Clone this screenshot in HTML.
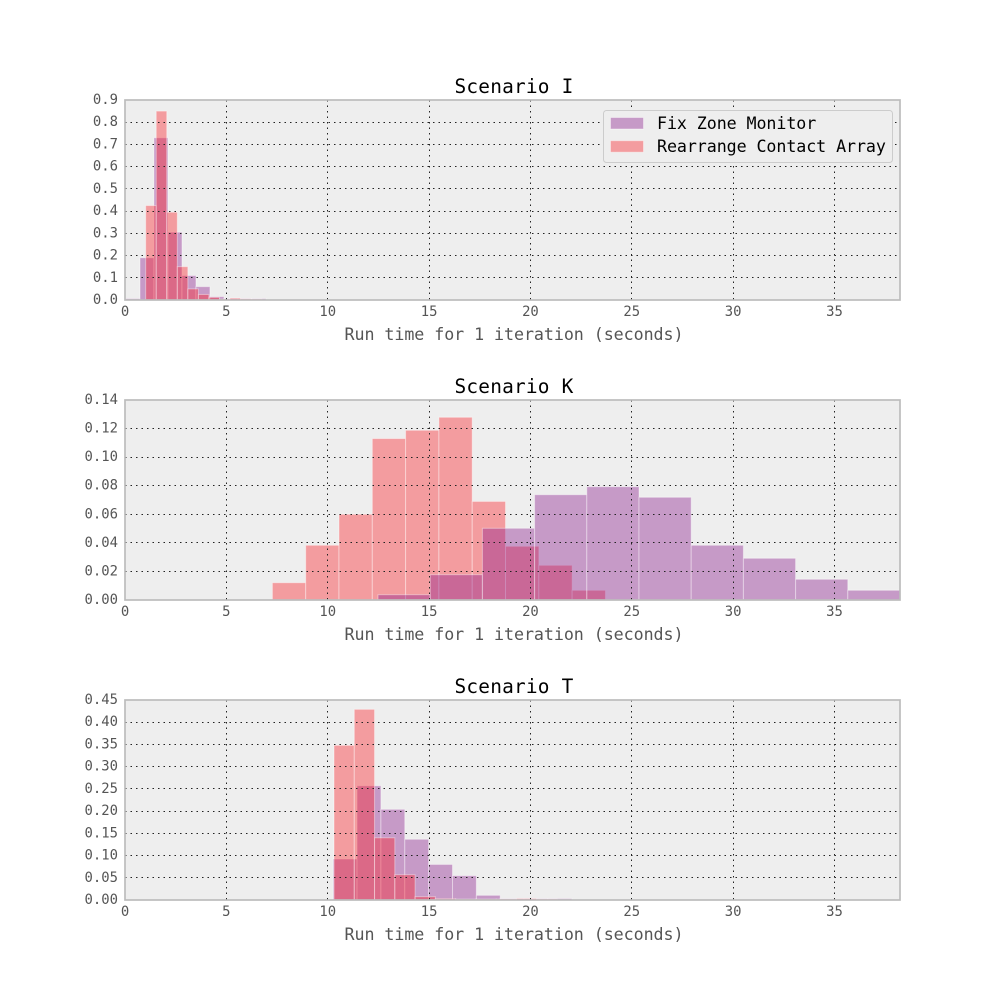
<!DOCTYPE html>
<html>
<head>
<meta charset="utf-8">
<title>Run time histograms</title>
<style>
html,body{margin:0;padding:0;background:#fff;}
svg{display:block;}
text{font-family:"DejaVu Sans Mono","Liberation Mono",monospace;}
</style>
</head>
<body>
<svg id="chart" xmlns="http://www.w3.org/2000/svg" width="1000" height="1000" viewBox="0 0 1000 1000"></svg>
<script>
var xTickValues = [0, 5, 10, 15, 20, 25, 30, 35];
var xMaxValue = [38.23];
var seriesNames = ['Fix Zone Monitor', 'Rearrange Contact Array'];

var panelITitle = ['Scenario I'];
var panelIYTicks = ['0.0', '0.1', '0.2', '0.3', '0.4', '0.5', '0.6', '0.7', '0.8', '0.9'];
var panelIYMax = [0.9];
var panelIFixStart = [0.05];
var panelIFixWidth = [0.69];
var panelIFixValues = [0.006, 0.19, 0.73, 0.305, 0.11, 0.06, 0.015, 0.006, 0.006, 0.006];
var panelIRearrangeStart = [1.02];
var panelIRearrangeWidth = [0.52];
var panelIRearrangeValues = [0.425, 0.85, 0.395, 0.15, 0.05, 0.025, 0.012, 0.004, 0.008, 0.005, 0.004];

var panelKTitle = ['Scenario K'];
var panelKYTicks = ['0.00', '0.02', '0.04', '0.06', '0.08', '0.10', '0.12', '0.14'];
var panelKYMax = [0.14];
var panelKFixStart = [12.48];
var panelKFixWidth = [2.575];
var panelKFixValues = [0.0037, 0.0177, 0.0502, 0.0737, 0.0793, 0.0719, 0.0383, 0.0292, 0.0145, 0.0068];
var panelKRearrangeStart = [7.27];
var panelKRearrangeWidth = [1.643];
var panelKRearrangeValues = [0.0121, 0.0383, 0.06, 0.113, 0.1188, 0.1279, 0.069, 0.0376, 0.0243, 0.0068];

var panelTTitle = ['Scenario T'];
var panelTYTicks = ['0.00', '0.05', '0.10', '0.15', '0.20', '0.25', '0.30', '0.35', '0.40', '0.45'];
var panelTYMax = [0.45];
var panelTFixStart = [10.27];
var panelTFixWidth = [1.177];
var panelTFixValues = [0.0922, 0.257, 0.204, 0.1366, 0.08, 0.0547, 0.0105, 0.003, 0.003, 0.003];
var panelTRearrangeStart = [10.31];
var panelTRearrangeWidth = [1.0];
var panelTRearrangeValues = [0.348, 0.429, 0.14, 0.057, 0.0075, 0.003, 0.002, 0.002, 0.002, 0.003, 0.002];

var xAxisTitle = ['Run time for 1 iteration (seconds)'];

var NS = 'http://www.w3.org/2000/svg';
var svg = document.getElementById('chart');
var PLOT_LEFT = 125, PLOT_RIGHT = 900, PLOT_HEIGHT = 200;
var FIX_FILL = '#8a1c8d', RED_FILL = '#fb2128', ALPHA = 0.4;

function make(tag, attrs, parent, text) {
  var el = document.createElementNS(NS, tag);
  for (var k in attrs) { el.setAttribute(k, attrs[k]); }
  if (text !== undefined) { el.textContent = text; }
  parent.appendChild(el);
  return el;
}
function xScale(v) {
  return PLOT_LEFT + v / xMaxValue[0] * (PLOT_RIGHT - PLOT_LEFT);
}

function drawSeries(group, key, seriesLabel, start, width, values, fill, yScale, baseline) {
  values.forEach(function (v, i) {
    var x0 = xScale(start + i * width);
    var x1 = xScale(start + (i + 1) * width);
    var y = yScale(v);
    var bar = make('rect', {x: x0, y: y, width: x1 - x0, height: baseline - y,
      fill: fill, 'fill-opacity': ALPHA, stroke: '#ffffff', 'stroke-opacity': 0.4, 'stroke-width': 1}, group);
    
    
  });
}

function drawPanel(cfg) {
  var top = cfg.top, bottom = top + PLOT_HEIGHT;
  var yScale = function (v) { return bottom - v / cfg.yMax * PLOT_HEIGHT; };

  var g = make('g', {}, svg);
  
  

  var bg = make('rect', {x: PLOT_LEFT, y: top, width: PLOT_RIGHT - PLOT_LEFT, height: PLOT_HEIGHT, fill: '#eeeeee'}, g);
  
  

  var defs = make('defs', {}, g);
  var clip = make('clipPath', {id: cfg.key + '-clip'}, defs);
  make('rect', {x: PLOT_LEFT, y: top, width: PLOT_RIGHT - PLOT_LEFT, height: PLOT_HEIGHT}, clip);

  var bars = make('g', {'clip-path': 'url(#' + cfg.key + '-clip)'}, g);
  
  
  if (cfg.redOnTop) {
    drawSeries(bars, cfg.key, 'fix-zone-monitor', cfg.fixStart, cfg.fixWidth, cfg.fixValues, FIX_FILL, yScale, bottom);
    drawSeries(bars, cfg.key, 'rearrange-contact-array', cfg.redStart, cfg.redWidth, cfg.redValues, RED_FILL, yScale, bottom);
  } else {
    drawSeries(bars, cfg.key, 'rearrange-contact-array', cfg.redStart, cfg.redWidth, cfg.redValues, RED_FILL, yScale, bottom);
    drawSeries(bars, cfg.key, 'fix-zone-monitor', cfg.fixStart, cfg.fixWidth, cfg.fixValues, FIX_FILL, yScale, bottom);
  }

  xTickValues.forEach(function (t) {
    var x = xScale(t);
    if (t > 0) {
      var gx = Math.floor(x) + 0.5;
      var gl = make('line', {x1: gx, x2: gx, y1: top, y2: bottom, stroke: '#222222', 'stroke-width': 1, 'stroke-dasharray': '1.5 4'}, g);
      
      
    }
    var lab = make('text', {x: x, y: bottom + 16, 'text-anchor': 'middle', 'font-size': '13.9px', fill: '#555555'}, g, String(t));
    
    
  });

  cfg.yTicks.forEach(function (t) {
    var y = yScale(parseFloat(t));
    if (parseFloat(t) > 0 && parseFloat(t) < cfg.yMax) {
      var gy = Math.floor(y) + 0.5;
      var gl = make('line', {x1: PLOT_LEFT, x2: PLOT_RIGHT, y1: gy, y2: gy, stroke: '#222222', 'stroke-width': 1, 'stroke-dasharray': '1.5 4'}, g);
      
      
    }
    var lab = make('text', {x: 118, y: y + 4, 'text-anchor': 'end', 'font-size': '13.9px', fill: '#555555'}, g, t);
    
    
  });

  var frame = make('rect', {x: PLOT_LEFT, y: top, width: PLOT_RIGHT - PLOT_LEFT, height: PLOT_HEIGHT, fill: 'none', stroke: '#bcbcbc', 'stroke-width': 1.7}, g);
  
  

  var title = make('text', {x: 514, y: top - 7, 'text-anchor': 'middle', 'font-size': '19.44px', 'letter-spacing': '0.2px', fill: '#000000'}, g, cfg.title);
  
  

  var xt = make('text', {x: 514, y: bottom + 40, 'text-anchor': 'middle', 'font-size': '16.67px', 'letter-spacing': '-0.06px', fill: '#555555'}, g, xAxisTitle[0]);
  
  
}

drawPanel({key: 'scenario-i', top: 100, title: panelITitle[0], yTicks: panelIYTicks, yMax: panelIYMax[0], redOnTop: true,
  fixStart: panelIFixStart[0], fixWidth: panelIFixWidth[0], fixValues: panelIFixValues,
  redStart: panelIRearrangeStart[0], redWidth: panelIRearrangeWidth[0], redValues: panelIRearrangeValues});
drawPanel({key: 'scenario-k', top: 400, title: panelKTitle[0], yTicks: panelKYTicks, yMax: panelKYMax[0], redOnTop: false,
  fixStart: panelKFixStart[0], fixWidth: panelKFixWidth[0], fixValues: panelKFixValues,
  redStart: panelKRearrangeStart[0], redWidth: panelKRearrangeWidth[0], redValues: panelKRearrangeValues});
drawPanel({key: 'scenario-t', top: 700, title: panelTTitle[0], yTicks: panelTYTicks, yMax: panelTYMax[0], redOnTop: true,
  fixStart: panelTFixStart[0], fixWidth: panelTFixWidth[0], fixValues: panelTFixValues,
  redStart: panelTRearrangeStart[0], redWidth: panelTRearrangeWidth[0], redValues: panelTRearrangeValues});

var legend = make('g', {}, svg);


var legendBox = make('rect', {x: 603.5, y: 110.5, width: 289, height: 52, rx: 3, ry: 3, fill: '#eeeeee', stroke: '#cccccc', 'stroke-width': 1}, legend);


var legendFills = [FIX_FILL, RED_FILL];
seriesNames.forEach(function (name, i) {
  var rowY = 117.5 + i * 23.2;
  var swatch = make('rect', {x: 610.5, y: rowY, width: 33, height: 11.5, fill: legendFills[i], 'fill-opacity': ALPHA, stroke: '#ffffff', 'stroke-opacity': 0.4, 'stroke-width': 1}, legend);
  
  
  var label = make('text', {x: 657, y: rowY + 11.5, 'font-size': '16.67px', 'letter-spacing': '-0.08px', fill: '#000000'}, legend, name);
  
  
});
</script>
</body>
</html>
